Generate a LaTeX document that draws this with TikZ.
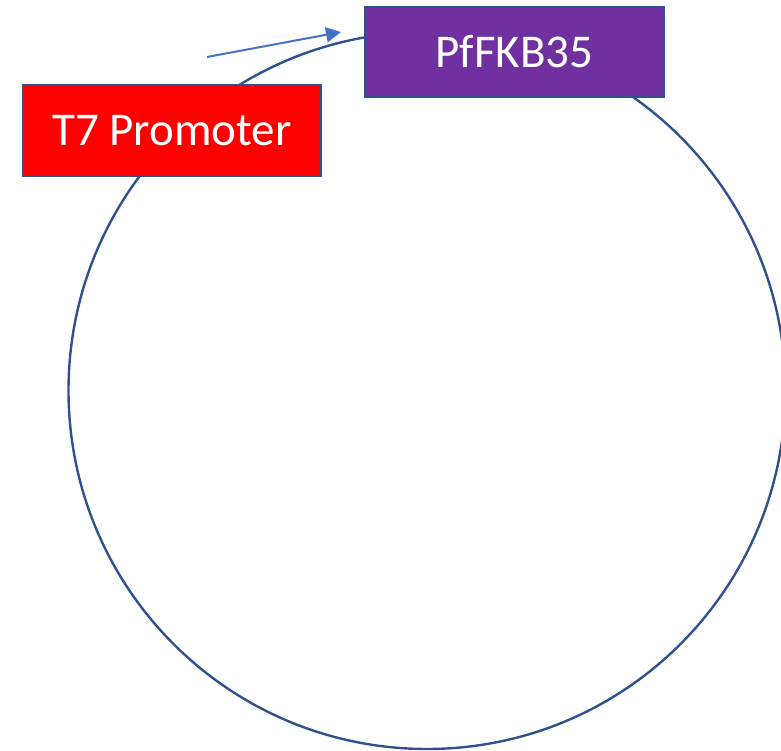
\documentclass[tikz,border=0pt]{standalone}
\usepackage{fontspec}
\setmainfont{Carlito}
\usetikzlibrary{arrows.meta}
\definecolor{outline}{RGB}{47,82,143}
\definecolor{arrowblue}{RGB}{68,114,196}
\definecolor{promoterred}{RGB}{255,0,0}
\definecolor{genepurple}{RGB}{112,48,160}
\tikzset{
  part/.style={draw=outline, line width=1.6pt, text=white, inner sep=0pt,
    font=\fontsize{47}{56}\selectfont, anchor=center},
  backbone/.style={draw=outline, line width=2.4pt, circle, inner sep=0pt},
  direction/.style={draw=arrowblue, line width=2pt,
    -{Triangle[length=15pt,width=15pt]}}
}
\begin{document}
\begin{tikzpicture}[x=1pt,y=-1pt]
  \useasboundingbox (0,0) rectangle (781,751);
  % plasmid backbone
  \node[backbone, minimum size=717pt] (plasmid) at (427,390.5) {};
  % parts placed on the backbone
  \node[part, fill=promoterred, minimum width=298pt, minimum height=91pt]
    (t7) at (172,130.5) {T7 Promoter};
  \node[part, fill=genepurple, minimum width=299pt, minimum height=90pt]
    (gene) at (514.5,52) {PfFKB35};
  % transcription direction
  \coordinate (dirstart) at (207,57);
  \coordinate (dirend) at (341,32);
  \draw[direction] (dirstart) -- (dirend);
\end{tikzpicture}
\end{document}
